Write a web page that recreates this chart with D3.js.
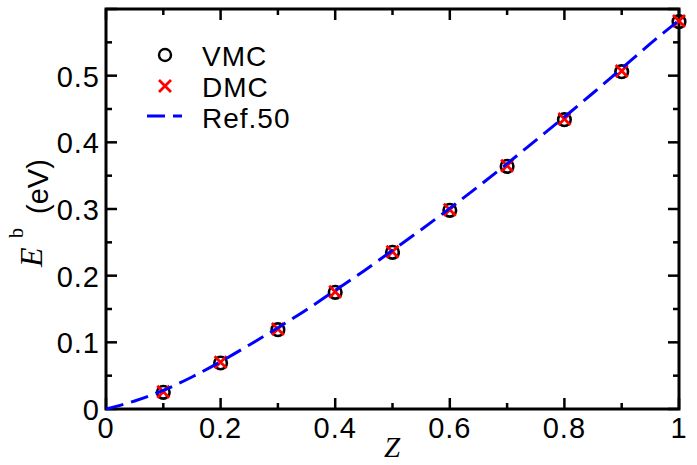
<!DOCTYPE html>
<html>
<head>
<meta charset="utf-8">
<script src="https://cdn.jsdelivr.net/npm/d3@7"></script>
<style>
  body { margin: 0; background: #fff; }
  text { font-family: "Liberation Sans", Arial, sans-serif; }
  text.serif { font-family: "Liberation Serif", "Times New Roman", serif; }
</style>
</head>
<body>
<script>
// binding energy vs Z
const zValues = [0.1, 0.2, 0.3, 0.4, 0.5, 0.6, 0.7, 0.8, 0.9, 1.0];
const vmcValues = [0.025, 0.069, 0.119, 0.175, 0.235, 0.298, 0.364, 0.434, 0.506, 0.581];
const dmcValues = [0.026, 0.070, 0.120, 0.176, 0.236, 0.299, 0.365, 0.435, 0.507, 0.582];

const refZ = [0, 0.05, 0.1, 0.15, 0.2, 0.25, 0.3, 0.35, 0.4, 0.45, 0.5,
              0.55, 0.6, 0.65, 0.7, 0.75, 0.8, 0.85, 0.9, 0.95, 1.0];
const refE = [0, 0.012, 0.028, 0.048, 0.071, 0.096, 0.122, 0.149, 0.178, 0.207, 0.238,
              0.269, 0.301, 0.334, 0.368, 0.403, 0.438, 0.474, 0.511, 0.548, 0.583];

const xTicks = [0, 0.2, 0.4, 0.6, 0.8, 1];
const yTicks = [0, 0.1, 0.2, 0.3, 0.4, 0.5];
const legendLabels = ["VMC", "DMC", "Ref.50"];

const width = 697, height = 465;
const plotLeft = 106, plotRight = 679, plotTop = 9, plotBottom = 409;

let x = d3.scaleLinear().domain([0, 1]).range([plotLeft, plotRight]);
let y = d3.scaleLinear().domain([0, 0.6]).range([plotBottom, plotTop]);

let svg = d3.select("body").append("svg")
    .attr("width", width)
    .attr("height", height);

// ticks (inward, on all four sides)
let xMinor = d3.range(0, 1.0001, 0.1);
let yMinor = d3.range(0, 0.6001, 0.05);
let isMajor = v => Math.abs(v * 10 / 2 - Math.round(v * 10 / 2)) < 1e-6;
let isMajorY = v => Math.abs(v * 10 - Math.round(v * 10)) < 1e-6;

let ticks = svg.append("g").attr("stroke", "#000").attr("stroke-width", 2.5);
xMinor.forEach(v => {
    let len = isMajor(v) ? 11 : 6;
    ticks.append("line").attr("x1", x(v)).attr("x2", x(v)).attr("y1", plotBottom).attr("y2", plotBottom - len);
    ticks.append("line").attr("x1", x(v)).attr("x2", x(v)).attr("y1", plotTop).attr("y2", plotTop + len);
});
yMinor.forEach(v => {
    let len = isMajorY(v) ? 11 : 6;
    ticks.append("line").attr("y1", y(v)).attr("y2", y(v)).attr("x1", plotLeft).attr("x2", plotLeft + len);
    ticks.append("line").attr("y1", y(v)).attr("y2", y(v)).attr("x1", plotRight).attr("x2", plotRight - len);
});

svg.append("rect")
    .attr("x", plotLeft).attr("y", plotTop)
    .attr("width", plotRight - plotLeft).attr("height", plotBottom - plotTop)
    .attr("fill", "none").attr("stroke", "#000").attr("stroke-width", 3);

// tick labels
svg.append("g").selectAll("text").data(xTicks).enter().append("text")
    .attr("x", d => x(d)).attr("y", 438)
    .attr("text-anchor", "middle")
    .attr("font-size", 29).attr("letter-spacing", 1)
    .text(d => d3.format("~g")(d));

svg.append("g").selectAll("text").data(yTicks).enter().append("text")
    .attr("x", 100).attr("y", d => y(d) + 11)
    .attr("text-anchor", "end")
    .attr("font-size", 29).attr("letter-spacing", 1)
    .text(d => d3.format("~g")(d));

// axis titles
svg.append("text")
    .attr("class", "serif")
    .attr("x", 392).attr("y", 457)
    .attr("text-anchor", "middle")
    .attr("font-style", "italic")
    .attr("font-size", 29)
    .text("Z");

svg.append("text")
    .attr("class", "serif")
    .attr("transform", "translate(42,267) rotate(-90)")
    .attr("font-style", "italic")
    .attr("font-size", 32)
    .text("E");
svg.append("text")
    .attr("class", "serif")
    .attr("transform", "translate(23,238) rotate(-90)")
    .attr("font-size", 20)
    .text("b");
svg.append("text")
    .attr("transform", "translate(48,214) rotate(-90)")
    .attr("font-size", 29)
    .text("(eV)");

// markers
let pts = zValues.map((z, i) => ({z, vmc: vmcValues[i], dmc: dmcValues[i]}));

svg.append("g").selectAll("circle").data(pts).enter().append("circle")
    .attr("cx", d => x(d.z)).attr("cy", d => y(d.vmc)).attr("r", 6.3)
    .attr("fill", "none").attr("stroke", "#000").attr("stroke-width", 2.6);

let cross = (g, cx, cy, s) => {
    g.append("path")
        .attr("d", `M${cx - s},${cy - s}L${cx + s},${cy + s}M${cx - s},${cy + s}L${cx + s},${cy - s}`)
        .attr("stroke", "#ff0000").attr("stroke-width", 2.8).attr("fill", "none");
};
let crosses = svg.append("g");
pts.forEach(d => cross(crosses, x(d.z), y(d.dmc), 6));

// reference curve
let line = d3.line()
    .x((d, i) => x(refZ[i]))
    .y(d => y(d))
    .curve(d3.curveMonotoneX);

svg.append("path")
    .datum(refE)
    .attr("d", line)
    .attr("fill", "none")
    .attr("stroke", "#0000ff")
    .attr("stroke-width", 3)
    .attr("stroke-dasharray", "18,8");

// legend
let lg = svg.append("g");
lg.append("circle").attr("cx", 165).attr("cy", 55).attr("r", 6)
    .attr("fill", "none").attr("stroke", "#000").attr("stroke-width", 2.4);
cross(lg, 165, 86, 6);
lg.append("line").attr("x1", 147).attr("x2", 182).attr("y1", 116).attr("y2", 116)
    .attr("stroke", "#0000ff").attr("stroke-width", 3).attr("stroke-dasharray", "18,8");

lg.selectAll("text").data(legendLabels).enter().append("text")
    .attr("x", 202).attr("y", (d, i) => 66 + i * 31)
    .attr("font-size", 28).attr("letter-spacing", 1)
    .text(d => d);
</script>
</body>
</html>
